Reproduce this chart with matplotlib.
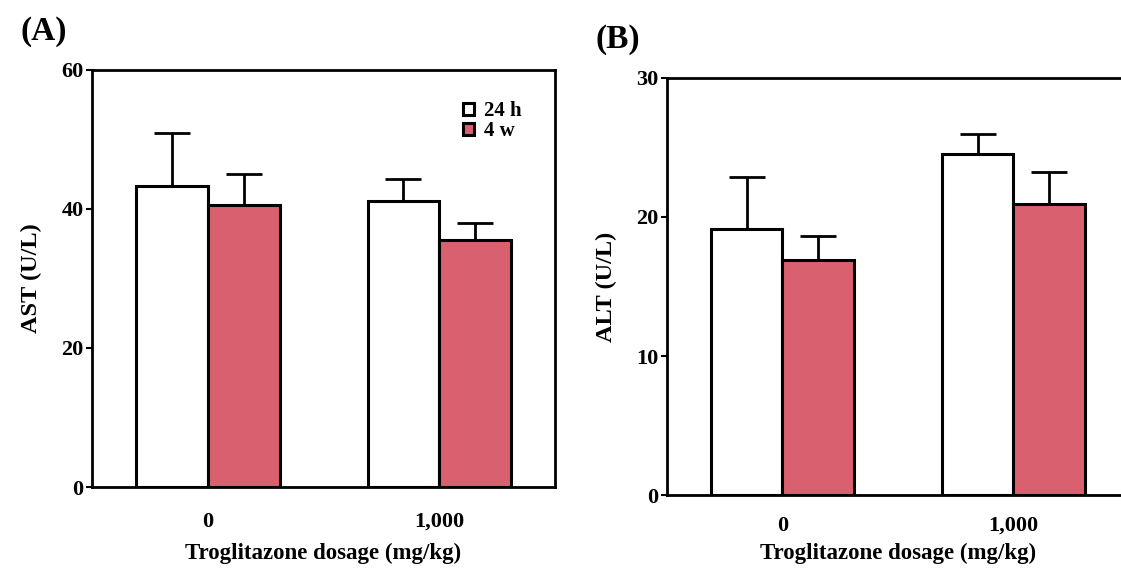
import matplotlib.pyplot as plt
import numpy as np

# Data
groups = ["0", "1,000"]
series = ["24 h", "4 w"]
ast_mean = {"24 h": [43.3, 41.2], "4 w": [40.6, 35.5]}
ast_err = {"24 h": [7.6, 3.1], "4 w": [4.4, 2.5]}
alt_mean = {"24 h": [19.1, 24.5], "4 w": [16.9, 20.9]}
alt_err = {"24 h": [3.8, 1.5], "4 w": [1.7, 2.3]}
colors = {"24 h": "white", "4 w": "#d9616f"}

plt.rcParams['font.family'] = ['Liberation Serif', 'DejaVu Serif']
plt.rcParams['font.weight'] = 'bold'

fig = plt.figure(figsize=(11.21, 5.69), dpi=100)
axA = fig.add_axes([0.0821, 0.1441, 0.413, 0.733])
axB = fig.add_axes([0.595, 0.130, 0.412, 0.733])

x = np.arange(len(groups))
width = 0.31


def draw(ax, means, errs, ymax, yticks, ylabel, letter, legend=False,
         xpad=18, labelpad=8):
    for i, s in enumerate(series):
        pos = x + (i - 0.5) * width
        ax.bar(pos, means[s], width, color=colors[s], edgecolor='black',
               linewidth=2.2, label=s, zorder=2)
        ax.errorbar(pos, means[s], yerr=[np.zeros(len(groups)), errs[s]],
                    fmt='none', ecolor='black', elinewidth=2, capsize=13,
                    capthick=2, zorder=1)
    ax.set_xlim(-0.5, 1.5)
    ax.set_ylim(0, ymax)
    ax.set_yticks(yticks)
    ax.set_xticks(x)
    ax.set_xticklabels(groups)
    ax.tick_params(axis='x', length=0, pad=xpad, labelsize=16)
    ax.tick_params(axis='y', length=4, width=1.5, labelsize=16, pad=2)
    for sp in ax.spines.values():
        sp.set_linewidth(2)
    ax.set_ylabel(ylabel, fontsize=17.5, fontweight='bold', labelpad=14)
    ax.set_xlabel("Troglitazone dosage (mg/kg)", fontsize=16.5,
                  fontweight='bold', labelpad=labelpad)
    ax.text(-0.155, 1.055, letter, transform=ax.transAxes, fontsize=24,
            fontweight='bold', va='bottom', ha='left')
    if legend:
        ax.legend(loc='upper right', bbox_to_anchor=(0.96, 0.96),
                  frameon=False, fontsize=15, handlelength=0.5,
                  handleheight=0.5, handletextpad=0.5, labelspacing=0.0,
                  borderpad=0.2)


draw(axA, ast_mean, ast_err, 60, [0, 20, 40, 60], "AST (U/L)", "(A)", legend=True)
draw(axB, alt_mean, alt_err, 30, [0, 10, 20, 30], "ALT (U/L)", "(B)",
     xpad=15, labelpad=5)

fig.savefig("out.png", dpi=100)
